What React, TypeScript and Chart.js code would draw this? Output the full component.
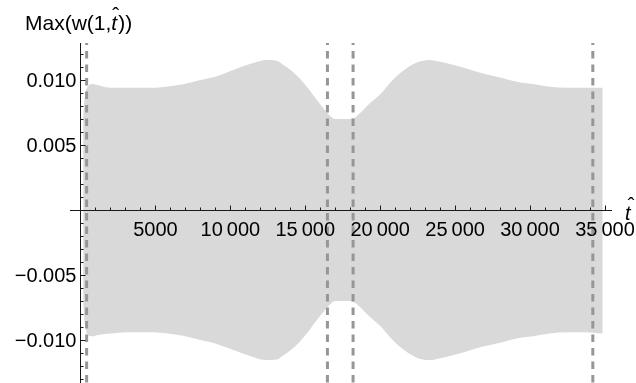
import React, { useEffect, useRef } from 'react';
import { Chart, registerables } from 'chart.js';

Chart.register(...registerables);

// time values (t-hat) where the envelope of w(1,t) was read
const envelopeT = [180, 300, 500, 800, 1200, 2000, 3000, 4000, 4700, 5800, 6850, 8000, 9100, 10200, 11300, 12400, 13100, 13500, 14100, 14650, 15300, 15750, 16300, 16700, 17000, 17600, 18200, 18600, 19300, 20000, 20600, 21300, 22400, 23300, 24000, 24650, 25700, 26850, 28000, 29100, 30200, 31300, 32500, 33700, 34850];
// upper envelope (max of w)
const upperAmp = [0.0072, 0.0088, 0.0095, 0.0097, 0.0096, 0.0094, 0.0094, 0.0094, 0.0094, 0.0095, 0.00967, 0.01, 0.0103, 0.01077, 0.01123, 0.01154, 0.01149, 0.0112, 0.0107, 0.0101, 0.0092, 0.0085, 0.0077, 0.0072, 0.007, 0.007, 0.00705, 0.0074, 0.0082, 0.0089, 0.0097, 0.0105, 0.01133, 0.01154, 0.0114, 0.01123, 0.0109, 0.0105, 0.0102, 0.00987, 0.0097, 0.00949, 0.0094, 0.0094, 0.0094];
// lower envelope (min of w)
const lowerAmp = [-0.0072, -0.0088, -0.0096, -0.0097, -0.0096, -0.0095, -0.0094, -0.0094, -0.0094, -0.0095, -0.00967, -0.01, -0.0103, -0.01077, -0.01123, -0.01154, -0.01149, -0.0112, -0.0107, -0.0101, -0.0092, -0.0085, -0.0077, -0.0072, -0.007, -0.007, -0.00705, -0.0074, -0.0082, -0.0089, -0.0097, -0.0105, -0.01133, -0.01154, -0.0114, -0.01123, -0.0109, -0.0105, -0.0102, -0.00987, -0.0097, -0.00949, -0.0094, -0.0094, -0.0095];
// dashed vertical markers
const markerT = [410, 16480, 18190, 34190];
// labelled ticks
const xTickValues = [5000, 10000, 15000, 20000, 25000, 30000, 35000];
const yTickValues = [-0.01, -0.005, 0.005, 0.01];

const xMin = -700;
const xMax = 35470;
const yMin = -0.0133;
const yMax = 0.01285;

const FONT = '"Liberation Sans", Arial, sans-serif';

function fmtX(v: number): string {
  if (Math.abs(v) < 1e-6) return '';
  if (v >= 10000) {
    const th = Math.floor(v / 1000);
    const rest = String(Math.round(v % 1000)).padStart(3, '0');
    return th + '\u2009' + rest;
  }
  return String(v);
}

function fmtY(v: number): string {
  if (Math.abs(v) < 1e-9) return '';
  return (v < 0 ? '\u2212' : '') + Math.abs(v).toFixed(3);
}

const axesPlugin = {
  id: 'mmaAxes',
  afterDatasetsDraw(chart: any) {
    const { ctx, chartArea, scales } = chart;
    const xs = scales.x;
    const ys = scales.y;
    const x0 = Math.round(xs.getPixelForValue(0)) + 0.5;
    const y0 = Math.round(ys.getPixelForValue(0)) + 0.5;
    ctx.save();
    ctx.strokeStyle = '#1a1a1a';
    ctx.lineWidth = 1;
    ctx.beginPath();
    ctx.moveTo(chartArea.left, y0);
    ctx.lineTo(chartArea.right, y0);
    ctx.moveTo(x0, chartArea.top);
    ctx.lineTo(x0, chartArea.bottom);
    // x ticks (pointing up)
    for (let t = 1000; t <= 35000; t += 1000) {
      const px = Math.round(xs.getPixelForValue(t)) + 0.5;
      const len = t % 5000 === 0 ? 5 : 3;
      ctx.moveTo(px, y0);
      ctx.lineTo(px, y0 - len);
    }
    // y ticks (pointing right)
    for (let k = -13; k <= 12; k++) {
      if (k === 0) continue;
      const v = k / 1000;
      const py = Math.round(ys.getPixelForValue(v)) + 0.5;
      const len = k % 5 === 0 ? 5 : 3;
      ctx.moveTo(x0, py);
      ctx.lineTo(x0 + len, py);
    }
    ctx.stroke();
    ctx.restore();
  },
  afterDraw(chart: any) {
    const { ctx } = chart;
    ctx.save();
    ctx.fillStyle = '#000';
    ctx.textBaseline = 'alphabetic';
    ctx.textAlign = 'left';
    // title: Max(w(1, t^))
    ctx.font = '21px ' + FONT;
    let x = 25;
    const base = 30;
    const part1 = 'Max(w(1,';
    ctx.fillText(part1, x, base);
    x += ctx.measureText(part1).width;
    ctx.font = 'italic 21px ' + FONT;
    const tw = ctx.measureText('t').width;
    ctx.fillText('t', x, base);
    ctx.font = '21px ' + FONT;
    ctx.textAlign = 'center';
    ctx.fillText('\u02C6', x + tw / 2 + 1.5, base - 8);
    ctx.textAlign = 'left';
    x += tw + 1;
    ctx.fillText('))', x, base);
    // axis label t^
    ctx.font = 'italic 20px ' + FONT;
    ctx.fillText('t', 625, 220);
    ctx.font = '20px ' + FONT;
    ctx.textAlign = 'center';
    ctx.fillText('\u02C6', 631, 212);
    ctx.restore();
  },
};

export default function App() {
  const ref = useRef<HTMLCanvasElement | null>(null);
  useEffect(() => {
    if (!ref.current) return;
    const upper = envelopeT.map((t, i) => ({ x: t, y: upperAmp[i] }));
    const lower = envelopeT.map((t, i) => ({ x: t, y: lowerAmp[i] }));
    const markers = markerT.map((t) => ({
      data: [
        { x: t, y: yMax },
        { x: t, y: yMin },
      ],
      borderColor: 'rgb(150,150,150)',
      borderWidth: 3,
      borderDash: [7.5, 6],
      borderDashOffset: 5.5,
      pointRadius: 0,
      fill: false,
      order: 0,
    }));
    const noPad = (s: any) => {
      s.paddingLeft = 0;
      s.paddingRight = 0;
      s.paddingTop = 0;
      s.paddingBottom = 0;
    };
    const chart = new Chart(ref.current, {
      type: 'line',
      data: {
        datasets: [
          {
            data: upper,
            borderWidth: 0,
            borderColor: 'rgba(0,0,0,0)',
            backgroundColor: 'rgb(217,217,217)',
            pointRadius: 0,
            fill: '+1',
            cubicInterpolationMode: 'monotone',
            order: 2,
          },
          {
            data: lower,
            borderWidth: 0,
            borderColor: 'rgba(0,0,0,0)',
            backgroundColor: 'rgb(217,217,217)',
            pointRadius: 0,
            fill: false,
            cubicInterpolationMode: 'monotone',
            order: 2,
          },
          ...markers,
        ] as any,
      },
      options: {
        responsive: false,
        animation: false,
        events: [],
        layout: { padding: { left: 70, right: 24, top: 43, bottom: 0 } },
        plugins: {
          legend: { display: false },
          tooltip: { enabled: false },
          filler: { propagate: false },
        },
        scales: {
          x: {
            type: 'linear',
            min: xMin,
            max: xMax,
            position: { y: 0 } as any,
            grid: { display: false, drawTicks: false },
            border: { display: false },
            afterBuildTicks: (s: any) => {
              s.ticks = xTickValues.map((v) => ({ value: v }));
            },
            afterFit: noPad,
            ticks: {
              autoSkip: false,
              maxRotation: 0,
              padding: 8,
              color: '#000',
              z: 1,
              font: { family: FONT, size: 20 },
              callback: (v: any) => fmtX(Number(v)),
            },
          },
          y: {
            type: 'linear',
            min: yMin,
            max: yMax,
            // labels anchored a few pixels left of the axis line (drawn at x = 0)
            position: { x: -270 } as any,
            grid: { display: false, drawTicks: false },
            border: { display: false },
            afterBuildTicks: (s: any) => {
              s.ticks = yTickValues.map((v) => ({ value: v }));
            },
            afterFit: noPad,
            ticks: {
              autoSkip: false,
              padding: 0,
              labelOffset: 1.5,
              color: '#000',
              z: 1,
              font: { family: FONT, size: 20 },
              callback: (v: any) => fmtY(Number(v)),
            },
          },
        },
      } as any,
      plugins: [axesPlugin],
    });
    return () => chart.destroy();
  }, []);
  return (
    <div style={{ position: 'absolute', left: 0, top: 0, width: 636, height: 383, background: '#fff' }}>
      <canvas ref={ref} width={636} height={383} style={{ display: 'block' }} />
    </div>
  );
}
